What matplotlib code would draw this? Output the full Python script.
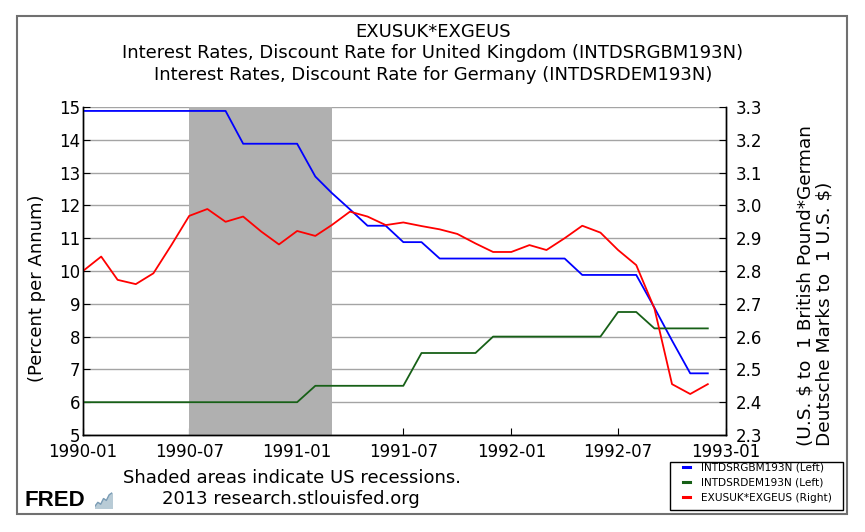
"""Recreate the FRED chart: UK and German discount rates with the EXUSUK*EXGEUS ratio."""

import matplotlib

matplotlib.use("Agg")
import matplotlib.pyplot as plt
import matplotlib.dates as mdates
import pandas as pd
from matplotlib.patches import Rectangle

# monthly observations, 1990-01 .. 1992-12
dates = pd.date_range("1990-01-01", periods=36, freq="MS")

uk_discount = [
    14.88, 14.88, 14.88, 14.88, 14.88, 14.88, 14.88, 14.88, 14.88,
    13.88, 13.88, 13.88, 13.88,
    12.88, 12.38, 11.88, 11.38, 11.38, 10.88, 10.88,
    10.38, 10.38, 10.38, 10.38, 10.38, 10.38, 10.38, 10.38,
    9.88, 9.88, 9.88, 9.88,
    8.88, 7.88, 6.88, 6.88,
]
de_discount = [
    6.0, 6.0, 6.0, 6.0, 6.0, 6.0, 6.0, 6.0, 6.0, 6.0, 6.0, 6.0, 6.0,
    6.5, 6.5, 6.5, 6.5, 6.5, 6.5,
    7.5, 7.5, 7.5, 7.5,
    8.0, 8.0, 8.0, 8.0, 8.0, 8.0, 8.0,
    8.75, 8.75,
    8.25, 8.25, 8.25, 8.25,
]
exusuk_exgeus = [
    2.800, 2.844, 2.773, 2.760, 2.793, 2.880, 2.968, 2.989, 2.950, 2.966,
    2.920, 2.881, 2.922, 2.907, 2.940, 2.981, 2.966, 2.940, 2.948, 2.937,
    2.927, 2.913, 2.884, 2.858, 2.858, 2.879, 2.864, 2.900, 2.938, 2.917,
    2.864, 2.818, 2.686, 2.455, 2.425, 2.455,
]

recession_start = "1990-07-01"
recession_end = "1991-03-01"

x_ticks = ["1990-01", "1990-07", "1991-01", "1991-07", "1992-01", "1992-07", "1993-01"]
left_ticks = [5, 6, 7, 8, 9, 10, 11, 12, 13, 14, 15]
right_ticks = [2.3, 2.4, 2.5, 2.6, 2.7, 2.8, 2.9, 3.0, 3.1, 3.2, 3.3]

title_lines = [
    "EXUSUK*EXGEUS",
    "Interest Rates, Discount Rate for United Kingdom (INTDSRGBM193N)",
    "Interest Rates, Discount Rate for Germany (INTDSRDEM193N)",
]
series_labels = [
    "INTDSRGBM193N (Left)",
    "INTDSRDEM193N (Left)",
    "EXUSUK*EXGEUS (Right)",
]

W, H = 865, 532
fig = plt.figure(figsize=(W / 100, H / 100), dpi=100)
plt.rcParams["font.family"] = "DejaVu Sans"

# outer frame
fig.patches.append(
    Rectangle((16.5 / W, 1 - 514 / H), (847 - 16.5) / W, (514 - 16) / H,
              transform=fig.transFigure, fill=False, edgecolor="#707070", lw=1.5)
)

ax = fig.add_axes([83 / W, 1 - 435 / H, (726 - 83) / W, (435 - 107) / H])
ax2 = ax.twinx()

ax.axvspan(pd.Timestamp(recession_start), pd.Timestamp(recession_end),
           color="#b0b0b0", lw=0, zorder=1)
ax.set_axisbelow(True)
ax.grid(axis="y", color="#a4a4a4", lw=1.0)

l1, = ax.plot(dates, uk_discount, color="#0000ff", lw=1.3, zorder=3)
l2, = ax.plot(dates, de_discount, color="#176017", lw=1.3, zorder=3)
l3, = ax2.plot(dates, exusuk_exgeus, color="#ff0000", lw=1.3)

ax.set_xlim(pd.Timestamp("1990-01-01"), pd.Timestamp("1993-01-01"))
ax.set_ylim(5, 15)
ax2.set_ylim(2.3, 3.3)

ax.set_xticks([pd.Timestamp(t + "-01") for t in x_ticks])
ax.xaxis.set_major_formatter(mdates.DateFormatter("%Y-%m"))
ax.set_yticks(left_ticks)
ax2.set_yticks(right_ticks)
ax2.set_yticklabels([f"{v:.1f}" for v in right_ticks])

for a in (ax, ax2):
    a.spines["top"].set_visible(False)
    for s in ("left", "right", "bottom"):
        a.spines[s].set_color("black")
        a.spines[s].set_linewidth(1.0)
ax.tick_params(axis="x", direction="in", length=5, labelsize=12, pad=6)
ax.tick_params(axis="y", direction="in", length=5, labelsize=12, pad=2)
ax2.tick_params(axis="y", direction="in", length=5, labelsize=12, pad=7)

fig.text(37 / W, 1 - 288 / H, "(Percent per Annum)", rotation=90,
         ha="center", va="center", fontsize=13)
fig.text(815 / W, 1 - 286 / H,
         "(U.S. $ to  1 British Pound*German\nDeutsche Marks to  1 U.S. $)",
         rotation=90, ha="center", va="center", multialignment="left",
         fontsize=13.3, linespacing=1.1)

for i, line in enumerate(title_lines):
    fig.text(433 / W, 1 - (32 + 21.5 * i) / H, line, ha="center", va="center", fontsize=13)

fig.text(292 / W, 1 - 478 / H, "Shaded areas indicate US recessions.",
         ha="center", va="center", fontsize=13)
fig.text(290.5 / W, 1 - 499 / H, "2013 research.stlouisfed.org",
         ha="center", va="center", fontsize=13)
fig.text(24 / W, 1 - 500 / H, "FRED", ha="left", va="center",
         fontsize=16, fontweight="bold", family="Liberation Sans")

# small FRED chart icon
icon_trend = [1, 3, 2, 5, 4, 7, 8]
icon = fig.add_axes([95 / W, 1 - 508 / H, 17 / W, 17 / H])
icon.set_facecolor("#e4ecef")
icon.plot(range(len(icon_trend)), icon_trend, color="#7a9cb5", lw=1)
icon.fill_between(range(len(icon_trend)), icon_trend, color="#b8cbd6")
icon.set_xlim(0, len(icon_trend) - 1)
icon.set_ylim(0, 9)
icon.axis("off")

# legend box drawn by hand so the padding matches
fig.patches.append(
    Rectangle((670 / W, 1 - 510 / H), (843 - 670) / W, (510 - 462) / H,
              transform=fig.transFigure, facecolor="white", edgecolor="black", lw=1.0)
)
leg = fig.legend([l1, l2, l3], series_labels, loc="upper left",
                 bbox_to_anchor=(683 / W, 1 - 462.5 / H), fontsize=7.55,
                 frameon=False, handlelength=0.7, handletextpad=1.05,
                 borderpad=0, labelspacing=0.5, borderaxespad=0)
for h in leg.legend_handles:
    h.set_linewidth(2.2)

fig.savefig("out.png", dpi=100)
